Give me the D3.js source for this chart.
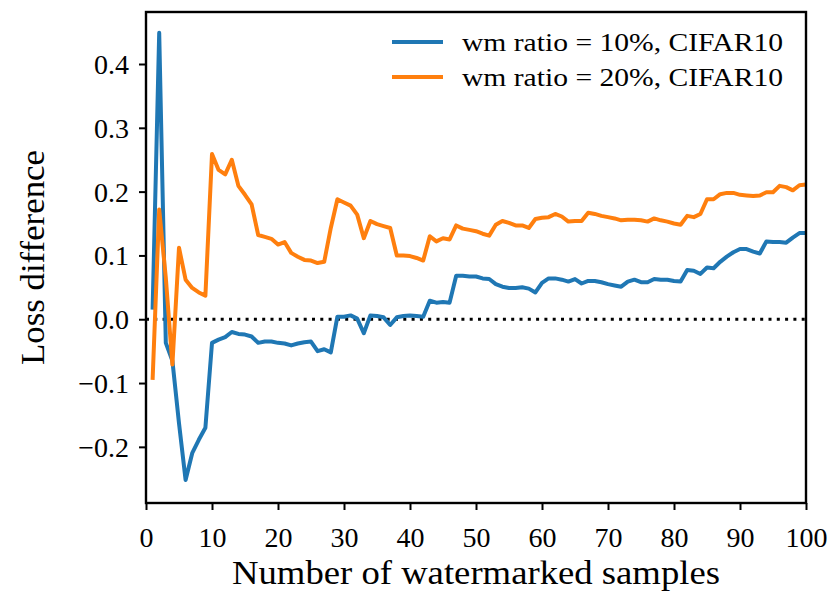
<!DOCTYPE html>
<html>
<head>
<meta charset="utf-8">
<script src="https://cdn.jsdelivr.net/npm/d3@7"></script>
<style>
  body { margin: 0; background: #fff; }
  svg { display: block; font-family: "Liberation Serif", "DejaVu Serif", serif; }
</style>
</head>
<body>
<svg id="chart" width="830" height="593"></svg>
<script>
// number of watermarked samples 1..100
const samples = d3.range(1, 101);

// wm ratio = 10%
const ratio10 = [
  0.015, 0.449, -0.037, -0.065, -0.163, -0.252, -0.21, -0.189, -0.17, -0.037,
  -0.032, -0.028, -0.02, -0.023, -0.024, -0.027, -0.037, -0.035, -0.035, -0.037,
  -0.038, -0.041, -0.038, -0.036, -0.035, -0.05, -0.047, -0.052, 0.004, 0.004,
  0.006, 0.001, -0.022, 0.006, 0.005, 0.003, -0.009, 0.003, 0.005, 0.006,
  0.005, 0.004, 0.029, 0.026, 0.027, 0.026, 0.068, 0.068, 0.067, 0.067,
  0.064, 0.063, 0.055, 0.051, 0.049, 0.049, 0.050, 0.048, 0.042, 0.057,
  0.064, 0.064, 0.062, 0.059, 0.063, 0.056, 0.060, 0.060, 0.058, 0.055,
  0.053, 0.051, 0.059, 0.062, 0.058, 0.058, 0.063, 0.062, 0.062, 0.060,
  0.059, 0.077, 0.076, 0.071, 0.081, 0.080, 0.090, 0.098, 0.105, 0.110,
  0.110, 0.106, 0.103, 0.122, 0.121, 0.121, 0.120, 0.128, 0.135, 0.135
];

// wm ratio = 20%
const ratio20 = [
  -0.095, 0.172, 0.065, -0.071, 0.112, 0.062, 0.049, 0.042, 0.037, 0.259,
  0.234, 0.227, 0.250, 0.209, 0.195, 0.180, 0.132, 0.129, 0.126, 0.117,
  0.121, 0.104, 0.098, 0.093, 0.092, 0.088, 0.090, 0.143, 0.188, 0.183,
  0.178, 0.164, 0.127, 0.154, 0.149, 0.146, 0.143, 0.100, 0.100, 0.099,
  0.096, 0.092, 0.130, 0.122, 0.127, 0.125, 0.147, 0.142, 0.140, 0.138,
  0.134, 0.131, 0.148, 0.154, 0.151, 0.147, 0.147, 0.143, 0.157, 0.159,
  0.160, 0.165, 0.161, 0.153, 0.154, 0.154, 0.167, 0.165, 0.162, 0.160,
  0.158, 0.155, 0.156, 0.156, 0.155, 0.153, 0.158, 0.155, 0.153, 0.150,
  0.148, 0.162, 0.160, 0.165, 0.188, 0.188, 0.196, 0.198, 0.198, 0.195,
  0.194, 0.193, 0.194, 0.199, 0.199, 0.209, 0.207, 0.202, 0.210, 0.211
];

const seriesNames = ["wm ratio = 10%, CIFAR10", "wm ratio = 20%, CIFAR10"];
const seriesColors = ["#1f77b4", "#ff7f0e"];
const xTicks = [0, 10, 20, 30, 40, 50, 60, 70, 80, 90, 100];
const yTicks = [-0.2, -0.1, 0.0, 0.1, 0.2, 0.3, 0.4];

const width = 830, height = 593;
const margin = { top: 12, right: 24, bottom: 90, left: 146 };

const svg = d3.select("#chart");

const x = d3.scaleLinear().domain([0, 100]).range([margin.left, width - margin.right]);
const y = d3.scaleLinear().domain([-0.288, 0.4815]).range([height - margin.bottom, margin.top]);

const fmtMinus = (d) => d3.format(".1f")(d).replace("-", "\u2212");

// dotted zero line
svg.append("line")
  .attr("x1", x(0)).attr("x2", x(100))
  .attr("y1", y(0)).attr("y2", y(0))
  .attr("stroke", "#000")
  .attr("stroke-width", 3)
  .attr("stroke-dasharray", "3,5.3");

const line = d3.line()
  .x((d, i) => x(samples[i]))
  .y((d) => y(d));

[ratio10, ratio20].forEach((vals, k) => {
  svg.append("path")
    .datum(vals)
    .attr("fill", "none")
    .attr("stroke", seriesColors[k])
    .attr("stroke-width", 4)
    .attr("stroke-linejoin", "round")
    .attr("d", line);
});

// frame
svg.append("rect")
  .attr("x", margin.left).attr("y", margin.top)
  .attr("width", width - margin.left - margin.right)
  .attr("height", height - margin.top - margin.bottom)
  .attr("fill", "none")
  .attr("stroke", "#000")
  .attr("stroke-width", 2.4);

// axes
const xAxis = svg.append("g")
  .attr("transform", `translate(0,${height - margin.bottom})`)
  .call(d3.axisBottom(x).tickValues(xTicks).tickSize(7).tickPadding(17).tickFormat(d3.format("d")));

const yAxis = svg.append("g")
  .attr("transform", `translate(${margin.left},0)`)
  .call(d3.axisLeft(y).tickValues(yTicks).tickSize(7).tickPadding(10).tickFormat(fmtMinus));

[xAxis, yAxis].forEach((g) => {
  g.select(".domain").remove();
  g.selectAll(".tick line").attr("stroke", "#000").attr("stroke-width", 2);
  g.selectAll(".tick text")
    .attr("fill", "#000")
    .style("font-family", "'Liberation Serif', 'DejaVu Serif', serif")
    .style("font-size", "28px");
});
yAxis.selectAll(".tick text").attr("dy", "0.34em");

// axis labels
svg.append("text")
  .attr("x", (margin.left + width - margin.right) / 2)
  .attr("y", 584)
  .attr("text-anchor", "middle")
  .attr("textLength", 488)
  .attr("lengthAdjust", "spacingAndGlyphs")
  .style("font-size", "33px")
  .text("Number of watermarked samples");

svg.append("text")
  .attr("transform", `translate(44,${(margin.top + height - margin.bottom) / 2}) rotate(-90)`)
  .attr("text-anchor", "middle")
  .attr("textLength", 215)
  .attr("lengthAdjust", "spacingAndGlyphs")
  .style("font-size", "33px")
  .text("Loss difference");

// legend
const legend = svg.append("g");
seriesNames.forEach((name, k) => {
  const ly = 42 + k * 35;
  legend.append("line")
    .attr("x1", 392).attr("x2", 443)
    .attr("y1", ly).attr("y2", ly)
    .attr("stroke", seriesColors[k])
    .attr("stroke-width", 4);
  legend.append("text")
    .attr("x", 462).attr("y", ly + 9)
    .attr("textLength", 321)
    .attr("lengthAdjust", "spacingAndGlyphs")
    .style("font-size", "26px")
    .text(name);
});
</script>
</body>
</html>
